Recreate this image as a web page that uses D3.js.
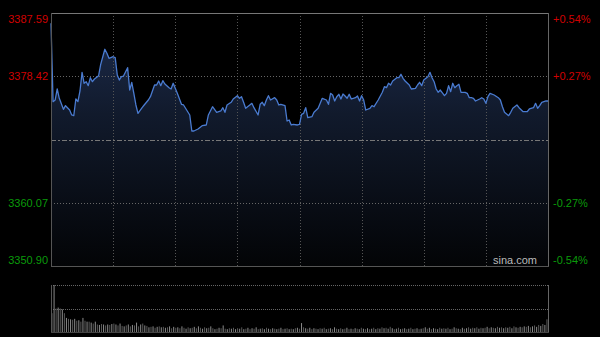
<!DOCTYPE html>
<html><head><meta charset="utf-8">
<script src="https://cdn.jsdelivr.net/npm/d3@7/dist/d3.min.js"></script>
<style>html,body{margin:0;padding:0;background:#000;}svg{display:block;}</style>
</head><body><svg id="c" width="600" height="337"></svg>
<script>
// ---- data ----
const prevClose = 3369.245;
const priceTicks = [3387.59, 3378.42, 3360.07, 3350.90];
const pctTicks = ["+0.54%", "+0.27%", "-0.27%", "-0.54%"];
const minutes = [0,1,2,3,4,6,7,9,10,11,12,13,14,15,16,17,18,19,20,21,23,24,26,27,28,30,31,32,33,34,35,37,38,39,40,41,42,44,45,47,48,50,51,52,53,54,55,57,58,59,60,
61,63,64,67,68,69,71,73,75,76,78,80,82,83,84,85,87,88,90,91,92,93,94,96,97,98,100,101,102,103,104,105,106,108,109,110,111,113,114,115,116,117,119,120,
121,122,123,124,126,127,129,130,131,133,134,135,136,137,138,139,140,141,142,143,144,145,146,147,148,149,150,151,152,154,155,156,158,160,161,162,163,164,165,167,168,169,170,171,173,174,176,177,178,179,180,
182,183,184,185,186,187,188,190,191,192,193,194,195,196,197,198,200,201,202,203,204,205,207,208,209,210,211,212,214,216,217,218,219,221,222,223,225,226,228,230,231,233,234,235,236,237,239,240];
const prices = [3386.10,3374.73,3374.97,3376.57,3375.22,3373.62,3374.15,3373.52,3372.80,3372.70,3375.12,3374.73,3376.28,3378.99,3377.40,3377.63,3377.05,3378.21,3377.63,3378.02,3378.50,3380.15,3382.33,3381.75,3381.02,3381.25,3381.11,3378.60,3377.87,3378.35,3378.45,3379.66,3376.42,3377.54,3375.94,3374.25,3373.04,3373.86,3374.25,3374.97,3375.45,3377.15,3377.15,3377.73,3377.05,3377.77,3377.29,3376.76,3376.57,3377.40,3376.67,
3375.94,3374.35,3374.25,3372.80,3370.48,3370.48,3370.77,3371.25,3371.35,3372.80,3374.00,3373.19,3373.38,3373.86,3373.19,3374.25,3374.64,3375.12,3375.60,3375.22,3375.45,3374.64,3373.77,3374.25,3374.49,3373.86,3372.80,3374.35,3374.64,3374.15,3374.97,3375.60,3374.97,3375.31,3374.97,3374.25,3374.35,3374.15,3371.93,3372.07,3371.35,3371.45,3371.35,3371.45,
3372.90,3373.04,3373.86,3372.41,3372.55,3373.19,3373.77,3374.49,3375.22,3374.97,3374.35,3375.94,3375.70,3374.83,3375.45,3375.80,3375.12,3375.84,3375.55,3375.22,3375.80,3375.12,3375.22,3375.31,3375.55,3374.83,3375.60,3374.97,3373.52,3373.77,3374.15,3374.00,3374.97,3376.09,3376.90,3376.76,3377.40,3377.15,3377.73,3378.21,3378.21,3378.70,3378.12,3377.73,3377.15,3376.57,3376.67,3377.15,3377.54,3377.05,3377.87,
3378.35,3378.99,3378.21,3377.63,3376.57,3376.09,3376.42,3375.60,3375.94,3377.05,3376.18,3377.40,3376.76,3377.05,3377.25,3376.09,3376.09,3375.94,3375.31,3375.31,3375.22,3374.83,3375.12,3375.31,3375.12,3374.49,3375.45,3375.94,3375.70,3375.31,3374.97,3374.00,3373.19,3372.70,3373.19,3373.77,3374.25,3373.86,3373.28,3373.28,3373.67,3373.86,3374.49,3373.77,3374.15,3374.64,3374.83,3374.83];
const volumes = [40,100,50,52,50,48,40,30,28,27,
26,28,24,25,22,30,24,22,22,20,
18,22,16,15,17,16,14,16,15,17,
18,16,14,18,13,12,14,16,12,15,
14,20,12,16,18,14,13,10,11,12,
9,11,12,10,11,9,10,12,8,11,
9,10,8,12,9,7,10,8,9,11,
8,12,9,7,10,8,9,12,8,6,
7,9,8,14,7,6,8,7,9,6,
8,7,10,6,7,9,6,8,7,10,
6,7,8,6,9,7,6,8,7,6,
7,9,6,7,8,6,7,6,8,9,
7,19,10,8,7,9,6,8,7,6,
8,7,9,6,7,8,6,10,7,6,
8,6,7,9,6,7,6,8,7,6,
9,7,6,8,6,7,9,6,8,7,
10,8,9,7,11,8,6,7,9,6,
7,8,6,7,9,6,7,8,6,7,
8,10,7,9,6,8,7,6,9,7,
8,7,9,6,7,10,8,7,6,9,
7,8,10,7,9,8,10,7,9,8,
9,11,8,10,9,8,11,9,10,8,
10,9,11,8,12,10,9,11,10,12,
11,13,10,12,14,11,15,13,17,15,
27];

// ---- layout ----
const L = 51, R = 548, T = 13, B = 266;
const VT = 285, VB = 332;
const svg = d3.select("#c");
const x = d3.scaleLinear().domain([0, 240]).range([L, R]);
const y = d3.scaleLinear().domain([priceTicks[3], priceTicks[0]]).range([B, T]);
const xv = d3.scaleLinear().domain([0, 241]).range([L, R]);
const yv = d3.scaleLinear().domain([0, d3.max(volumes)]).range([VB, VT]);

const defs = svg.append("defs");
const g = defs.append("linearGradient").attr("id", "fillg").attr("gradientUnits", "userSpaceOnUse")
  .attr("x1", 0).attr("x2", 0).attr("y1", T).attr("y2", B);
g.append("stop").attr("offset", 0).attr("stop-color", "#1e2e50");
g.append("stop").attr("offset", 0.4).attr("stop-color", "#111a2c");
g.append("stop").attr("offset", 1).attr("stop-color", "#030406");

const pts = minutes.map((m, i) => [m, prices[i]]);
svg.append("path").datum(pts)
  .attr("d", d3.area().x(d => x(d[0])).y0(B).y1(d => y(d[1])))
  .attr("fill", "url(#fillg)");

// grid
const vgrid = d3.range(1, 8).map(i => i * 30);
svg.append("g").selectAll("line").data(vgrid).join("line")
  .attr("x1", d => Math.round(x(d)) + 0.5).attr("x2", d => Math.round(x(d)) + 0.5)
  .attr("y1", T).attr("y2", B).attr("stroke", "#555").attr("stroke-dasharray", "1,2");
svg.append("g").selectAll("line").data([priceTicks[1], priceTicks[2]]).join("line")
  .attr("x1", L).attr("x2", R).attr("y1", d => Math.round(y(d)) + 0.5).attr("y2", d => Math.round(y(d)) + 0.5)
  .attr("stroke", "#666").attr("stroke-dasharray", "1,2");
svg.append("line").attr("x1", L).attr("x2", R)
  .attr("y1", Math.round(y(prevClose)) + 0.5).attr("y2", Math.round(y(prevClose)) + 0.5)
  .attr("stroke", "#777").attr("stroke-dasharray", "5,2,2,2");

// line
svg.append("path").datum(pts)
  .attr("d", d3.line().x(d => x(d[0])).y(d => y(d[1])))
  .attr("fill", "none").attr("stroke", "#4a7bd0").attr("stroke-width", 1.3).attr("stroke-linejoin", "round");

// frame
svg.append("line").attr("x1", L).attr("x2", R + 0.5).attr("y1", T + 0.5).attr("y2", T + 0.5).attr("stroke", "#777");
svg.append("line").attr("x1", L + 0.5).attr("x2", L + 0.5).attr("y1", T).attr("y2", B).attr("stroke", "#555");
svg.append("line").attr("x1", R + 0.5).attr("x2", R + 0.5).attr("y1", T).attr("y2", B + 1).attr("stroke", "#666");
svg.append("line").attr("x1", L).attr("x2", R + 1).attr("y1", B + 0.5).attr("y2", B + 0.5).attr("stroke", "#555");

// labels
const colorFor = v => v >= prevClose ? "#d00000" : "#0a9a0a";
const labY = [T + 10, y(priceTicks[1]) + 4, y(priceTicks[2]) + 4, B - 2];
svg.append("g").selectAll("text").data(priceTicks).join("text")
  .attr("x", 48).attr("y", (d, i) => labY[i]).attr("text-anchor", "end")
  .attr("font-family", "Arial, 'Liberation Sans', sans-serif").attr("font-size", 11)
  .attr("fill", d => colorFor(d)).text(d => d.toFixed(2));
svg.append("g").selectAll("text").data(pctTicks).join("text")
  .attr("x", 553).attr("y", (d, i) => labY[i])
  .attr("font-family", "Arial, 'Liberation Sans', sans-serif").attr("font-size", 11)
  .attr("fill", (d, i) => colorFor(priceTicks[i])).text(d => d);
svg.append("text").attr("x", 537).attr("y", B - 2).attr("text-anchor", "end")
  .attr("font-family", "Arial, 'Liberation Sans', sans-serif").attr("font-size", 11)
  .attr("fill", "#bbb").text("sina.com");

// volume panel
svg.append("g").selectAll("line").data([VT, (VT + VB) / 2]).join("line")
  .attr("x1", L).attr("x2", R).attr("y1", d => Math.round(d) + 0.5).attr("y2", d => Math.round(d) + 0.5)
  .attr("stroke", "#666").attr("stroke-dasharray", "1,1");
svg.append("g").selectAll("rect").data(volumes).join("rect")
  .attr("x", (d, i) => xv(i) + 0.5).attr("width", 1)
  .attr("y", d => yv(d)).attr("height", d => VB - yv(d))
  .attr("fill", (d, i) => i % 2 ? "#8a8a8a" : "#5a5a5a");
svg.append("line").attr("x1", L + 0.5).attr("x2", L + 0.5).attr("y1", VT).attr("y2", VB).attr("stroke", "#555");
svg.append("line").attr("x1", R + 0.5).attr("x2", R + 0.5).attr("y1", VT).attr("y2", VB).attr("stroke", "#666");
svg.append("line").attr("x1", L).attr("x2", R + 1).attr("y1", VB + 0.5).attr("y2", VB + 0.5).attr("stroke", "#444");
</script></body></html>
